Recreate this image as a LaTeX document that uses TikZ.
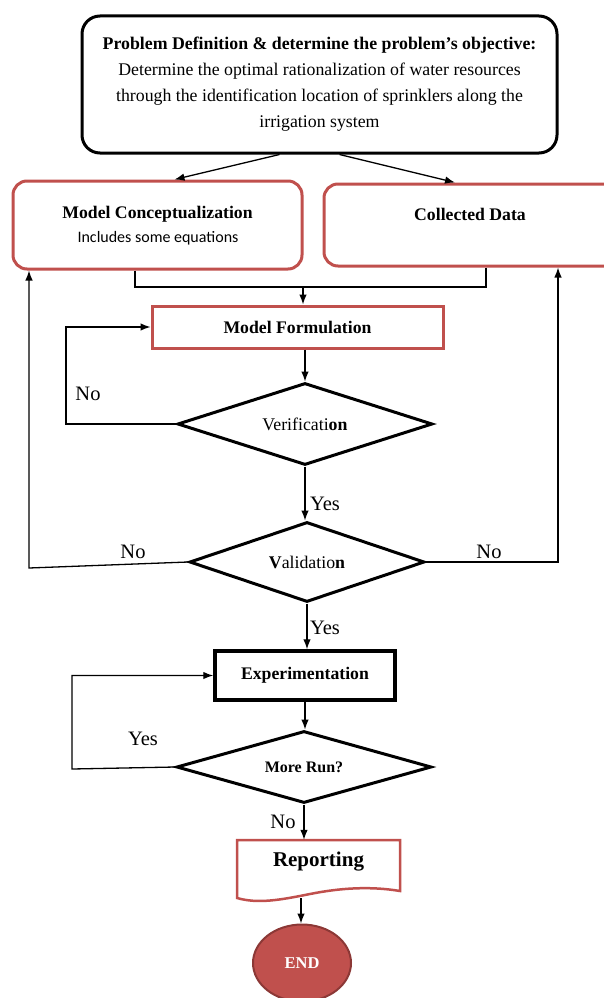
\documentclass[tikz,border=0pt]{standalone}
\usepackage{fontspec}
\setmainfont{Liberation Serif}
\newfontfamily\calibri{Carlito}
\usetikzlibrary{shapes.geometric,arrows.meta}
\definecolor{boxred}{HTML}{C0504D}
\definecolor{endrim}{HTML}{8C3836}
\tikzset{
  arr/.style={-{Latex[length=10pt,width=7.5pt]}, line width=1.3pt},
  ln/.style={line width=1.2pt},
  redbox/.style={draw=boxred, line width=3pt, rounded corners=14pt, inner sep=0pt},
  decision/.style={diamond, draw, line width=3pt, inner sep=0pt, aspect=3},
  lbl/.style={font=\fontsize{20.5}{20.5}\selectfont, inner sep=0pt},
  txt/.style={inner sep=0pt, font=\fontsize{17.7}{17.7}\selectfont\bfseries},
}
\begin{document}
\begin{tikzpicture}[x=1pt,y=-1pt]
\useasboundingbox (0,0) rectangle (604,998);
% top box
\node[draw, line width=3pt, rounded corners=18pt, minimum width=475pt, minimum height=137pt, inner sep=0pt,
  align=center, font=\fontsize{17.8}{26}\selectfont] (top) at (319.5,84.5)
  {\textbf{Problem Definition \& determine the problem{\char"27}s objective:}\\
   Determine the optimal rationalization of water resources\\
   through the identification location of sprinklers along the\\
   irrigation system};
% model conceptualization
\node[redbox, minimum width=289pt, minimum height=88pt] (mc) at (157.5,225) {};
\node[txt] (mct) at (157.5,214) {Model Conceptualization};
\node[inner sep=0pt, font=\calibri\fontsize{16}{16}\selectfont] (mcs) at (158,238) {Includes some equations};
% collected data
\node[redbox, minimum width=296pt, minimum height=82pt] (cd) at (472,225) {};
\node[txt] (cdt) at (470,214) {Collected Data};
% model formulation
\node[draw=boxred, line width=3pt, minimum width=291pt, minimum height=42pt, inner sep=0pt,
  font=\fontsize{17.7}{17.7}\selectfont\bfseries] (mf) at (297.5,327) {Model Formulation};
% verification
\node[decision, minimum width=255pt, minimum height=82pt, font=\fontsize{17.8}{17.8}\selectfont] (ver) at (305,424) {Verificati\textbf{on}};
% validation
\node[decision, minimum width=235pt, minimum height=80pt, font=\fontsize{17.8}{17.8}\selectfont] (val) at (307,562) {\textbf{V}alidatio\textbf{n}};
% experimentation
\node[draw, line width=3.5pt, minimum width=180pt, minimum height=49pt, inner sep=0pt,
  font=\fontsize{17.7}{17.7}\selectfont\bfseries] (exp) at (305,675.5) {Experimentation};
% more run
\node[decision, minimum width=255pt, minimum height=72pt, font=\fontsize{16}{16}\selectfont\bfseries] (more) at (304,767) {More Run?};
% reporting
\node[minimum width=163pt, minimum height=60pt, inner sep=0pt] (rep) at (318.5,870) {};
\draw[draw=boxred, line width=2.5pt, fill=white]
  (237,840) -- (400,840) -- (400,891)
  .. controls (370,886) and (340,888) .. (310,894)
  .. controls (280,900) and (258,904) .. (237,898) -- cycle;
\node[font=\fontsize{21}{21}\selectfont\bfseries, inner sep=0pt] (rept) at (318.5,862) {Reporting};
% end
\node[ellipse, draw=endrim, line width=2pt, fill=boxred, minimum width=98pt, minimum height=77pt, inner sep=0pt,
  text=white, font=\fontsize{16.5}{16.5}\selectfont\bfseries] (end) at (302,963) {END};

% connectors
\draw[arr] ([xshift=-40pt]top.south) -- ([xshift=17pt]mc.north);
\draw[arr] ([xshift=20pt]top.south) -- ([xshift=-17pt]cd.north);
\coordinate (j) at (303,287);
\draw[ln] ([xshift=-22.5pt]mc.south) |- (j);
\draw[ln] ([xshift=14pt]cd.south) |- (j);
\draw[arr] (j) -- (j |- mf.north);
\draw[arr] (mf.south -| ver.north) -- (ver.north);
\coordinate (vnl) at (66,424);
\draw[arr] (ver.west) -- (vnl) |- (mf.west);
\draw[arr] (ver.south) -- (ver.south |- val.north);
\coordinate (vl) at (29,568);
\draw[arr] (val.west) -- (vl) -- (vl |- mc.south);
\coordinate (vr) at (558,562);
\draw[arr] (val.east) -- (vr) -- (vr |- cd.south);
\draw[arr] (val.south) -- (val.south |- exp.north);
\draw[arr] (exp.south) -- (exp.south |- more.north);
\coordinate (ml) at (72,769);
\draw[arr] (more.west) -- (ml) |- (exp.west);
\draw[arr] (more.south) -- (more.south |- rep.north);
\draw[arr] (301,898) -- (end.north -| 301,0);

% labels
\node[lbl] (l1) at (88,394) {No};
\node[lbl] (l2) at (325,504) {Yes};
\node[lbl] (l3) at (133,552) {No};
\node[lbl] (l4) at (489,552) {No};
\node[lbl] (l5) at (325,628) {Yes};
\node[lbl] (l6) at (143,739) {Yes};
\node[lbl] (l7) at (283,822) {No};
\end{tikzpicture}
\end{document}
